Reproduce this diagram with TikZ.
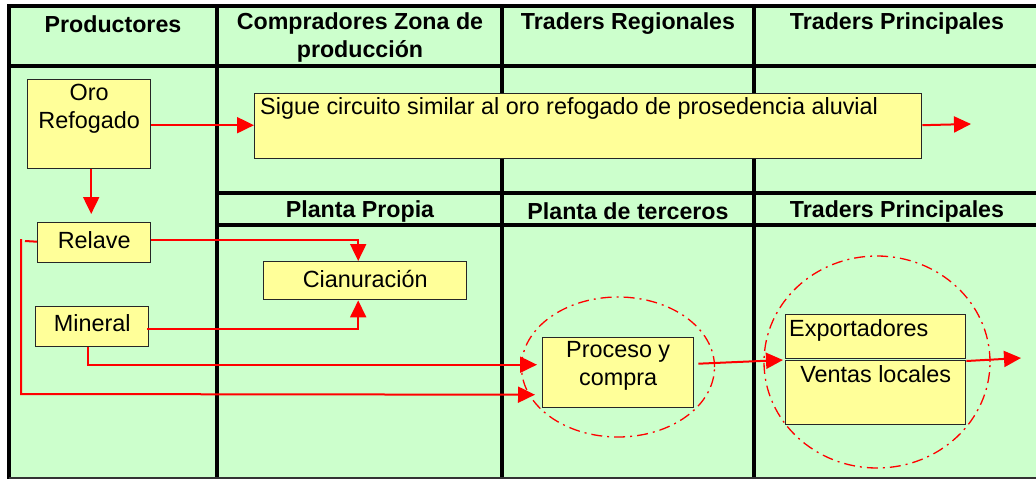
\documentclass[tikz,border=0pt]{standalone}
\usepackage{fontspec}
\setmainfont{Liberation Sans}
\usetikzlibrary{arrows.meta,calc,shapes.geometric}
\definecolor{cellgreen}{HTML}{CCFFCC}
\definecolor{boxyellow}{HTML}{FFFF99}
\definecolor{arrred}{HTML}{FF0000}
\tikzset{
  grid/.style={line width=3.5pt,black},
  box/.style={draw=black!85,line width=1.4pt,fill=boxyellow,inner sep=0pt,anchor=north west},
  txt/.style={font=\fontsize{23.4}{28}\selectfont,inner sep=0pt,align=center},
  head/.style={font=\bfseries\fontsize{23.2}{28}\selectfont,inner sep=0pt,align=center},
  arr/.style={draw=arrred,line width=2pt,-{Triangle[length=17pt,width=16pt]}},
  conn/.style={draw=arrred,line width=2pt},
  ring/.style={ellipse,draw=arrred,line width=1.3pt,dash pattern=on 11pt off 5pt on 2pt off 5pt,inner sep=0pt},
}
\begin{document}
\begin{tikzpicture}[x=1pt,y=-1pt]
\useasboundingbox (0,0) rectangle (1036,479);
% background table
\fill[cellgreen] (9,6) rectangle (1040,482);
\draw[grid] (9,482) -- (9,6) -- (1040,6);
\draw[grid] (9,66) -- (1040,66);
\draw[grid] (217,193) -- (1040,193);
\draw[grid] (217,225) -- (1040,225);
\draw[grid] (217,6) -- (217,482);
\draw[grid] (502,6) -- (502,482);
\draw[grid] (754,6) -- (754,482);
\draw[line width=1.5pt,black!80] (9,478) -- (1040,478);
% headers
\node[head] (h1) at (113,24) {Productores};
\node[head] (h2) at (360,38) {Compradores Zona de\\producción};
\node[head] (h3) at (628,24) {Traders Regionales};
\node[head] (h4) at (897,24) {Traders Principales};
\node[head] (h5) at (360,211) {Planta Propia};
\node[head] (h6) at (628,211) {Planta de terceros};
\node[head] (h7) at (897,211) {Traders Principales};
% boxes
\node[box,minimum width=123pt,minimum height=89pt] (oro) at (27,79) {};
\node[txt,anchor=north] (orot) at ($(oro.north)+(0,5)$) {Oro\\Refogado};
\node[box,minimum width=667pt,minimum height=65pt] (sigue) at (254,93) {};
\node[txt,anchor=north west] (siguet) at ($(sigue.north west)+(6,4)$) {Sigue circuito similar al oro refogado de prosedencia aluvial};
\node[box,minimum width=113pt,minimum height=40pt] (relave) at (37,222) {};
\node[txt] (relavet) at ($(relave.center)+(0,-3)$) {Relave};
\node[box,minimum width=203pt,minimum height=38pt] (cian) at (263,261) {};
\node[txt] (ciant) at ($(cian.center)+(0,-2)$) {Cianuración};
\node[box,minimum width=113pt,minimum height=40pt] (mineral) at (35,306) {};
\node[txt] (mineralt) at ($(mineral.center)+(0,-4)$) {Mineral};
\node[box,minimum width=151pt,minimum height=70pt] (proc) at (542,337) {};
\node[txt,anchor=north] (proct) at ($(proc.north)+(0,4)$) {Proceso y\\compra};
\node[box,minimum width=180pt,minimum height=44pt] (expo) at (785,314) {};
\node[txt,anchor=west] (expot) at ($(expo.west)+(4,-6)$) {Exportadores};
\node[box,minimum width=180pt,minimum height=64pt] (ventas) at (785,360) {};
\node[txt,anchor=north] (ventast) at ($(ventas.north)+(0,5)$) {Ventas locales};
% rings
\node[ring,minimum width=193pt,minimum height=140pt] (ring1) at (618,367) {};
\node[ring,minimum width=226pt,minimum height=212pt] (ring2) at (877,362) {};
% connectors
\coordinate (out1) at (971,124);
\coordinate (out2) at (1021,358);
\draw[arr] ($(oro.east)+(0,1)$) -- ($(sigue.west)+(0,-1)$);
\draw[arr] ($(sigue.east)+(0,-1)$) -- (out1);
\draw[arr] ($(oro.south)+(2,0)$) -- ($(oro.south |- relave.north)+(2,-8)$);
\draw[arr] ($(relave.east)+(0,-3)$) -| ($(cian.north)+(-7,0)$);
\draw[arr] ($(mineral.east)+(-2,2)$) -| ($(cian.south)+(-7,0)$);
\draw[arr] ($(mineral.south)+(-4,0)$) |- ($(proc.west)+(-5,-8)$);
\draw[conn] ($(relave.west)+(0,-1)$) -- (25,241);
\draw[arr] (21,239) -- (21,394) -- ($(proc.west)+(-7,22)$);
\draw[arr] ($(proc.east)+(4,-9)$) -- ($(ventas.north west)+(-2,0)$);
\draw[arr] ($(ventas.north east)+(0,1)$) -- (out2);
\end{tikzpicture}
\end{document}
